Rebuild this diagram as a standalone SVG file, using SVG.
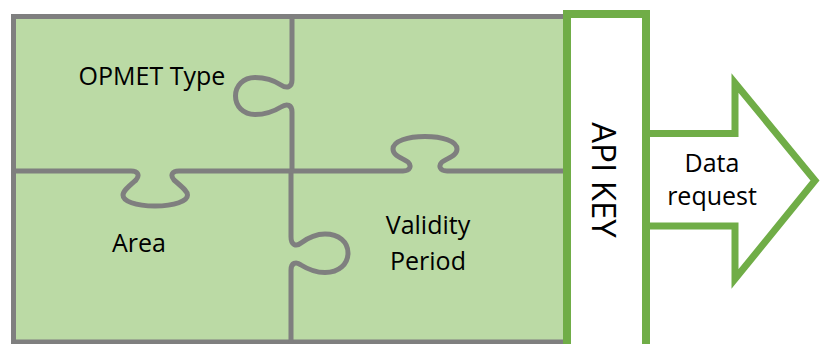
<svg xmlns="http://www.w3.org/2000/svg" width="821" height="344" viewBox="0 0 821 344">
  <style>
    .seam { fill: none; stroke: #7f7f7f; stroke-width: 5; stroke-linejoin: round; stroke-linecap: butt; }
    .frame { fill: #bbdaa5; stroke: #7f7f7f; stroke-width: 5; }
    .key { fill: #ffffff; stroke: #70ad47; stroke-width: 8; }
    .arrow { fill: #ffffff; stroke: #70ad47; stroke-width: 7; stroke-linejoin: miter; stroke-miterlimit: 10; }
    .lbl { font-family: "Open Sans", "Liberation Sans", sans-serif; font-size: 25px; fill: #000000; text-anchor: middle; }
    .key-lbl { font-family: "Open Sans", "Liberation Sans", sans-serif; font-size: 33px; fill: #000000; text-anchor: middle; }
  </style>

  <!-- board: four interlocking pieces -->
  <g id="board">
    <rect class="frame" x="13.5" y="16.5" width="560" height="325.5"/>
  </g>

  <!-- seams between the pieces -->
  <g id="seams">
    <!-- upper vertical seam, knob to the left -->
    <path class="seam" d="M292,16.5 V80 C292,87 287,89 281,85 C272,79 262,77.5 255,77.5 C243,77.5 235.5,86 235.5,96 C235.5,106 243,114.5 255,114.5 C263,114.5 273,112 281,107 C287,103 292,105 292,112 V171"/>
    <!-- lower vertical seam, knob to the right -->
    <path class="seam" d="M291,171 V237 C291,245 296,247 301,243 C309,237 316,234 325,234 C339,234 348,242 348,253 C348,264 339,272.5 325,272.5 C316,272.5 309,270 301,265 C296,261 291,263 291,270 V342"/>
    <!-- left horizontal seam, knob downward -->
    <path class="seam" d="M13.5,171 H131 C138,171 140,175 136,180 C128,187 123,191 123,195 C123,201 135,206 155,206 C175,206 187.5,201 187.5,195 C187.5,191 182,187 174,180 C170,175 172,171 179,171 H291"/>
    <!-- right horizontal seam, knob upward -->
    <path class="seam" d="M291,171 H403 C410,171 412,166 408,162 C400,157 393,155 393,149 C393,141 408,136.5 425,136.5 C442,136.5 457,141 457,149 C457,155 450,157 442,162 C438,166 440,171 447,171 H566"/>
  </g>

  <g id="piece-opmet-type">
    <text class="lbl" x="152" y="85">OPMET Type</text>
  </g>
  <g id="piece-area">
    <text class="lbl" x="139" y="252">Area</text>
  </g>
  <g id="piece-validity-period">
    <text class="lbl" x="428" y="234">Validity</text>
    <text class="lbl" x="428" y="270">Period</text>
  </g>

  <!-- outgoing block arrow -->
  <g id="data-request">
    <path class="arrow" d="M646,133.5 H735 V83 L815,180.5 L735,279 V226 H646"/>
    <text class="lbl" x="712" y="172">Data</text>
    <text class="lbl" x="712" y="205">request</text>
  </g>

  <!-- key bar closing the board -->
  <g id="api-key">
    <rect class="key" x="567" y="14" width="79" height="340"/>
    <text class="key-lbl" transform="translate(592,180) rotate(90)" x="0" y="0">API KEY</text>
  </g>
</svg>
